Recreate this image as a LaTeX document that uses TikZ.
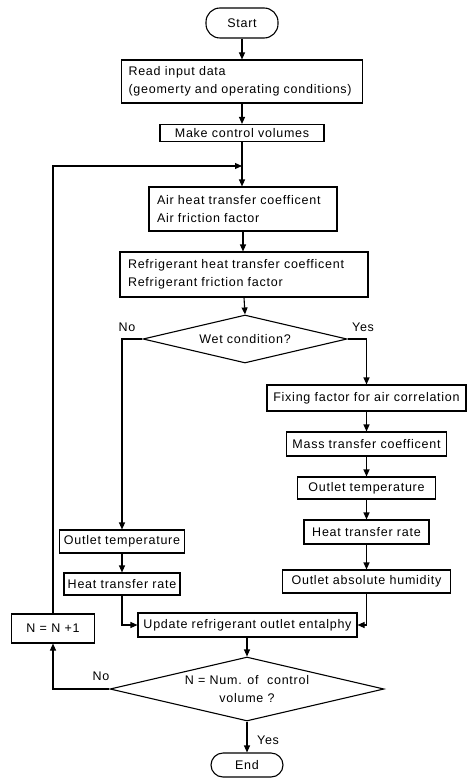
\documentclass[tikz,border=0pt]{standalone}
\usepackage{fontspec}
\setmainfont{Liberation Sans}[LetterSpace=6]
\usetikzlibrary{arrows.meta,shapes.geometric}
\tikzset{
  fs/.style={font=\fontsize{12.5}{18}\selectfont},
  proc/.style={draw, line width=1.1pt, fs, inner ysep=0pt, inner xsep=0pt, align=center},
  lproc/.style={draw, line width=1.1pt, fs, inner ysep=0pt, align=left},
  term/.style={draw, line width=1.1pt, fs, rounded corners=12pt, inner sep=0pt},
  dec/.style={draw, line width=1.1pt, fs, diamond, inner sep=0pt, align=center},
  conn/.style={line width=1.1pt, -{Triangle[length=7pt,width=6pt]}},
  lbl/.style={fs, inner sep=0pt}
}
\begin{document}
\begin{tikzpicture}[x=1pt,y=-1pt]
\useasboundingbox (0,0) rectangle (467,778);
% nodes
\node[term, minimum width=72pt, minimum height=30pt, rounded corners=14pt] (start) at (242,23) {Start};
\node[lproc, inner xsep=7pt, text width=227pt, minimum height=43pt] (read) at (242,81.5) {Read input data\\(geomerty and operating conditions)};
\node[proc, minimum width=164pt, minimum height=17pt] (make) at (242,133) {Make control volumes};
\coordinate (loopin) at (242,166);
\node[lproc, inner xsep=8pt, text width=172pt, minimum height=44pt] (air) at (243,209) {Air heat transfer coefficent\\Air friction factor};
\node[lproc, inner xsep=8pt, text width=232pt, minimum height=45pt] (ref) at (244,274.5) {Refrigerant heat transfer coefficent\\Refrigerant friction factor};
\node[dec, minimum width=204pt, minimum height=48pt, aspect=4.25] (wet) at (245,339) {Wet condition?};
\node[lbl] (no1) at (127,327) {No};
\node[lbl] (yes1) at (363,327) {Yes};
\node[proc, minimum width=199pt, minimum height=26pt] (fix) at (366.5,398) {Fixing factor for air correlation};
\node[proc, minimum width=160pt, minimum height=24pt] (mass) at (366.5,444) {Mass transfer coefficent};
\node[proc, minimum width=138pt, minimum height=22pt] (outR) at (366.5,488) {Outlet temperature};
\node[proc, minimum width=125pt, minimum height=24pt] (heatR) at (366.5,532) {Heat transfer rate};
\node[proc, minimum width=168pt, minimum height=23pt] (abs) at (366.5,581.5) {Outlet absolute humidity};
\node[proc, minimum width=125pt, minimum height=23pt] (outL) at (122,541.5) {Outlet temperature};
\node[proc, minimum width=116pt, minimum height=22pt] (heatL) at (122,584) {Heat transfer rate};
\node[proc, minimum width=219pt, minimum height=24pt] (upd) at (247.5,625) {Update refrigerant outlet entalphy};
\node[proc, minimum width=83pt, minimum height=29pt] (nbox) at (53,628.5) {N = N +1};
\node[dec, minimum width=274pt, minimum height=64pt, aspect=4.3] (chk) at (247,689) {N = Num. of\ \ control\\volume ?};
\node[lbl] (no2) at (101,676) {No};
\node[lbl] (yes2) at (268,740) {Yes};
\node[term, minimum width=72pt, minimum height=24pt] (end) at (247,765) {End};
% connectors
\draw[conn] (start.south) -- (start.south |- read.north);
\draw[conn] (read.south) -- (read.south |- make.north);
\draw[line width=1.1pt] (make.south) -- (loopin);
\draw[conn] (loopin) -- (loopin |- air.north);
\draw[conn] (air.south) -- (air.south |- ref.north);
\draw[conn] (ref.south) -- (wet.north);
\draw[conn] (wet.west) -- (outL.north |- wet.west) -- (outL.north);
\draw[conn] (wet.east) -- (fix.north |- wet.east) -- (fix.north);
\draw[conn] (fix.south) -- (mass.north);
\draw[conn] (mass.south) -- (outR.north);
\draw[conn] (outR.south) -- (heatR.north);
\draw[conn] (heatR.south) -- (abs.north);
\draw[conn] (outL.south) -- (heatL.north);
\draw[conn] (heatL.south) -- (heatL.south |- upd.west) -- (upd.west);
\draw[conn] (abs.south) -- (abs.south |- upd.east) -- (upd.east);
\draw[conn] (upd.south -| chk.north) -- (chk.north);
\draw[conn] (chk.west) -- (nbox.south |- chk.west) -- (nbox.south);
\draw[conn] (nbox.north) -- (nbox.north |- loopin) -- (loopin);
\draw[conn] (chk.south) -- (end.north);
\end{tikzpicture}
\end{document}
